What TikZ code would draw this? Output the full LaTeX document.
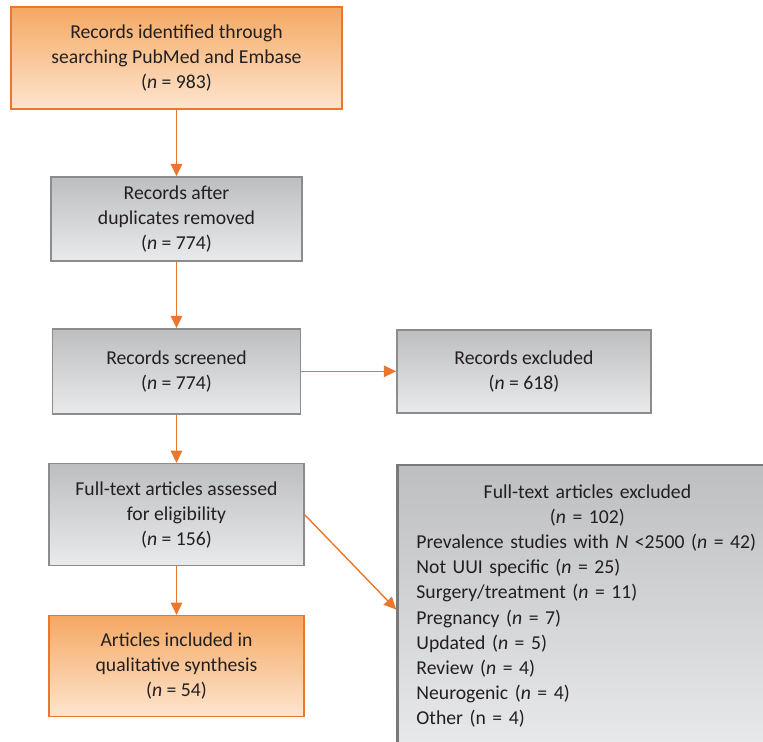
\documentclass[tikz,border=0pt]{standalone}
\usepackage{fontspec}
\setmainfont{Carlito}
\usetikzlibrary{arrows.meta, positioning}
\definecolor{flowline}{RGB}{235,118,45}
\definecolor{orangetop}{RGB}{245,168,98}
\definecolor{orangebot}{RGB}{253,229,207}
\definecolor{graytop}{RGB}{189,190,192}
\definecolor{graybot}{RGB}{233,234,235}
\definecolor{grayline}{RGB}{140,140,140}
\definecolor{textdark}{RGB}{35,31,32}
\begin{document}
\begin{tikzpicture}[node distance=1.33cm and 1.9cm, box/.style={draw=grayline, line width=0.8pt, top color=graytop, bottom color=graybot, align=center, text=textdark, font=\fontsize{11.2}{14.2}\selectfont}, obox/.style={box, draw=flowline, top color=orangetop, bottom color=orangebot}, flow/.style={->, draw=flowline, line width=0.8pt}, >={Triangle[length=7pt, width=6.5pt]}]
\clip (0,0) rectangle (15.26,-14.84);
\node[obox, minimum width=6.62cm, minimum height=2.04cm] (ident) at (3.53,-1.16) {Records identified through\\searching PubMed and Embase\\(\textit{n} = 983)};
\node[box, below=of ident, minimum width=5.02cm, minimum height=1.68cm] (dup) {Records after\\duplicates removed\\(\textit{n} = 774)};
\node[box, below=of dup, minimum width=4.96cm, minimum height=1.7cm] (screen) {Records screened\\(\textit{n} = 774)};
\node[box, right=of screen, minimum width=5.08cm, minimum height=1.66cm] (rexcl) {Records excluded\\(\textit{n} = 618)};
\node[box, below=0.97cm of screen, minimum width=5.1cm, minimum height=2.04cm] (assess) {Full-text articles assessed\\for eligibility\\(\textit{n} = 156)};
\node[obox, below=0.97cm of assess, minimum width=5.1cm, minimum height=2.02cm] (incl) {Articles included in\\qualitative synthesis\\(\textit{n} = 54)};
\node[box, draw=gray!95!black, line width=1.4pt, below right=1.0cm and 0cm of rexcl.south west, text width=6.84cm, align=left, inner xsep=0.38cm, inner ysep=0.4cm, font=\fontsize{11.2}{14.3}\selectfont] (fexcl) {{\centering Full-text articles excluded\\(\textit{n} = 102)\par}Prevalence studies with \textit{N} <2500 (\textit{n} = 42)\\Not UUI specific (\textit{n} = 25)\\Surgery/treatment (\textit{n} = 11)\\Pregnancy (\textit{n} = 7)\\Updated (\textit{n} = 5)\\Review (\textit{n} = 4)\\Neurogenic (\textit{n} = 4)\\Other (n = 4)\par\vspace{4pt}};
\draw[flow] (ident) -- (dup);
\draw[flow] (dup) -- (screen);
\draw[flow] (screen) -- (rexcl);
\draw[flow] (screen) -- (assess);
\draw[flow] (assess.east) -- (fexcl.west);
\draw[flow] (assess) -- (incl);
\end{tikzpicture}
\end{document}
